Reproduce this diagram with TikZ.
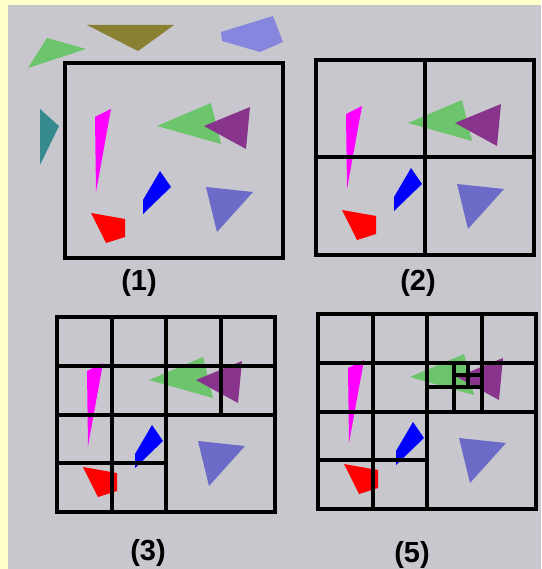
\documentclass[tikz,border=0pt]{standalone}
\usepackage{fontspec}
\setmainfont{Liberation Sans}
\definecolor{paperyellow}{RGB}{255,255,204}
\definecolor{boardgray}{RGB}{200,199,205}
\definecolor{olivetri}{RGB}{138,128,50}
\definecolor{lightgreen}{RGB}{108,196,108}
\definecolor{paleblue}{RGB}{134,134,222}
\definecolor{tealtri}{RGB}{52,138,140}
\definecolor{pinktri}{RGB}{255,0,255}
\definecolor{purpletri}{RGB}{136,52,140}
\definecolor{bluequad}{RGB}{0,0,255}
\definecolor{redquad}{RGB}{255,0,0}
\definecolor{slatetri}{RGB}{108,108,200}

\begin{document}
\begin{tikzpicture}[x=1pt,y=-1pt]
\tikzset{
  frame/.style={draw=black,line width=4pt,line join=miter},
  gridline/.style={draw=black,line width=4pt},
  panellabel/.style={font=\fontsize{29}{30}\selectfont\bfseries,inner sep=0pt,anchor=base},
  scene/.pic={
    \fill[pinktri] (30,54) -- (46,46) -- (31,129) -- cycle;
    \fill[lightgreen] (92,63) -- (146,40) -- (156,81) -- cycle;
    \fill[purpletri] (139,63) -- (185,44) -- (181,86) -- cycle;
    \fill[bluequad] (78,137) -- (95,108) -- (106,124) -- (78,151) -- cycle;
    \fill[redquad] (26,150) -- (60,156) -- (60,174) -- (41,180) -- cycle;
    \fill[slatetri] (141,124) -- (188,129) -- (152,169) -- cycle;
  }
}
\useasboundingbox (0,0) rectangle (541,569);
\fill[paperyellow] (0,0) rectangle (541,569);
\fill[boardgray] (8,5) rectangle (541,569);

% shapes outside the box
\fill[olivetri] (87,25) -- (174,25) -- (138,51) -- cycle;
\fill[lightgreen] (28,68) -- (47,38) -- (86,49) -- cycle;
\fill[paleblue] (221,32) -- (273,16) -- (283,42) -- (260,52) -- (222,41) -- cycle;
\fill[tealtri] (40,109) -- (59,126) -- (40,165) -- cycle;

% (1)
\pic at (65,63) {scene};
\draw[frame] (65,63) rectangle ++(218,195);
\node[panellabel] (lab1) at (139,290) {(1)};

% (2)
\pic at (316,60) {scene};
\begin{scope}[shift={(316,60)}]
\draw[gridline] (109,0) -- (109,195);
\draw[gridline] (0,97.5) -- (218,97.5);
\draw[frame] (0,0) rectangle (218,195);
\end{scope}
\node[panellabel] (lab2) at (418,290) {(2)};

% (3)
\pic at (57,317) {scene};
\begin{scope}[shift={(57,317)}]
\draw[gridline] (54.5,0) -- (54.5,195);
\draw[gridline] (109,0) -- (109,195);
\draw[gridline] (163.5,0) -- (163.5,97.5);
\draw[gridline] (0,48.75) -- (218,48.75);
\draw[gridline] (0,97.5) -- (218,97.5);
\draw[gridline] (0,146.25) -- (109,146.25);
\draw[frame] (0,0) rectangle (218,195);
\end{scope}
\node[panellabel] (lab3) at (148,560) {(3)};

% (5)
\pic at (318,314) {scene};
\begin{scope}[shift={(318,314)}]
\draw[gridline] (54.5,0) -- (54.5,195);
\draw[gridline] (109,0) -- (109,195);
\draw[gridline] (163.5,0) -- (163.5,97.5);
\draw[gridline] (0,48.75) -- (218,48.75);
\draw[gridline] (0,97.5) -- (218,97.5);
\draw[gridline] (0,146.25) -- (109,146.25);
\draw[gridline] (136.25,48.75) -- (136.25,97.5);
\draw[gridline] (109,73.1) -- (163.5,73.1);
\draw[gridline] (149.9,48.75) -- (149.9,73.1);
\draw[gridline] (136.25,60.9) -- (163.5,60.9);
\draw[frame] (0,0) rectangle (218,195);
\end{scope}
\node[panellabel] (lab5) at (412,562) {(5)};
\end{tikzpicture}
\end{document}
